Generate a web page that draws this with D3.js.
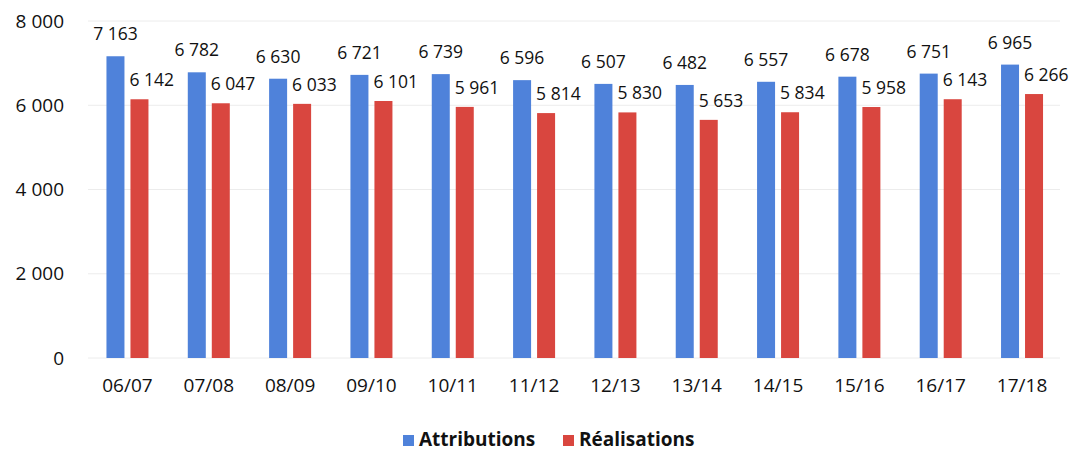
<!DOCTYPE html>
<html><head><meta charset="utf-8">
<script src="https://cdn.jsdelivr.net/npm/d3@7/dist/d3.min.js"></script>
<style>body{margin:0;background:#fff}svg{display:block}</style>
</head><body>
<svg id="c" width="1086" height="455"></svg>
<script>
const categories = ["06/07","07/08","08/09","09/10","10/11","11/12","12/13","13/14","14/15","15/16","16/17","17/18"];
const attributions = [7163,6782,6630,6721,6739,6596,6507,6482,6557,6678,6751,6965];
const realisations = [6142,6047,6033,6101,5961,5814,5830,5653,5834,5958,6143,6266];
const yTicks = [0,2000,4000,6000,8000];
const seriesNames = ["Attributions","Réalisations"];
const colors = ["#4f82da","#d9463f"];

const svg = d3.select("#c");
const font = "'Open Sans', 'Liberation Sans', sans-serif";
const fmt = v => d3.format(",")(v).replace(/,/g, "\u00a0");

const x = d3.scaleBand().domain(categories).range([86.8, 1062.7]);
const y = d3.scaleLinear().domain([0, 8000]).range([358, 21]);

// gridlines
svg.append("g").selectAll("line").data(yTicks).join("line")
  .attr("x1", 88).attr("x2", 1060)
  .attr("y1", d => y(d)).attr("y2", d => y(d))
  .attr("stroke", "#ececec").attr("stroke-width", 1);

// y axis
const yAxis = svg.append("g").attr("transform", "translate(64,0)")
  .call(d3.axisLeft(y).tickValues(yTicks).tickSize(0).tickPadding(0).tickFormat(fmt));
yAxis.select(".domain").remove();
yAxis.selectAll("text").attr("font-family", font).attr("font-size", 19).attr("fill", "#111");

// x axis
const xAxis = svg.append("g").attr("transform", "translate(0,378)")
  .call(d3.axisBottom(x).tickSize(0).tickPadding(0));
xAxis.select(".domain").remove();
xAxis.selectAll("text").attr("font-family", font).attr("font-size", 19).attr("fill", "#111").attr("dy", "0.71em");

const bw = 18, gap = 6;
const series = [attributions, realisations];
series.forEach((vals, s) => {
  const off = s === 0 ? -(bw + gap/2) : gap/2;
  const g = svg.append("g");
  g.selectAll("rect").data(vals).join("rect")
    .attr("x", (d, i) => x(categories[i]) + x.bandwidth()/2 + off)
    .attr("y", d => y(d))
    .attr("width", bw)
    .attr("height", d => y(0) - y(d))
    .attr("fill", colors[s]);
  g.selectAll("text").data(vals).join("text")
    .attr("x", (d, i) => x(categories[i]) + x.bandwidth()/2 + off + (s === 1 ? -1 : bw/2))
    .attr("y", d => y(d) - (s === 0 ? 16 : 13))
    .attr("text-anchor", s === 0 ? "middle" : "start")
    .attr("font-family", font).attr("font-size", 17.5).attr("fill", "#111")
    .text(fmt);
});

// legend
const leg = svg.append("g");
const legX = [403, 563];
seriesNames.forEach((n, i) => {
  leg.append("rect").attr("x", legX[i]).attr("y", 435).attr("width", 11).attr("height", 11).attr("fill", colors[i]);
  leg.append("text").attr("x", legX[i] + 16).attr("y", 446)
    .attr("font-family", font).attr("font-size", 19).attr("font-weight", "bold").attr("fill", "#111").text(n);
});
</script>
</body></html>
